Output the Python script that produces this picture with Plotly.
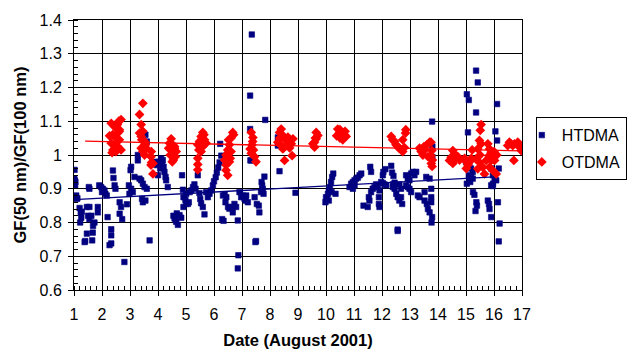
import plotly.graph_objects as go

# ---------------- data ----------------
HT_X = [
    1.00, 1.02, 1.03, 1.05, 1.01, 1.04, 1.06, 1.08, 1.10, 1.12,
    1.20, 1.24, 1.28, 1.26, 1.22,
    1.46, 1.55, 1.50, 1.62, 1.55, 1.73, 1.68,
    1.85, 1.85, 1.46, 1.38, 1.40, 1.67, 1.65,
    1.55, 1.53, 1.90, 1.97, 2.03, 2.09, 2.12, 2.17, 2.00,
    2.20, 2.33, 2.33, 2.27, 2.33,
    2.39, 2.41, 2.45, 2.48,
    2.63, 2.68, 2.63, 2.72, 2.89, 2.80,
    2.96, 3.04, 2.98, 3.10, 3.02, 3.04,
    3.28, 3.28, 3.16, 3.34, 3.40, 3.46, 3.52, 3.60,
    3.43, 3.46, 3.55, 3.70, 3.55, 3.60,
    3.88, 3.96, 4.05, 4.08, 4.00,
    4.11, 4.17, 4.15, 4.20, 4.23, 4.27, 4.29, 4.35,
    4.55, 4.59, 4.65, 4.71, 4.63, 4.67, 4.77, 4.83,
    4.86, 4.89, 4.91, 4.98, 5.07, 5.01, 5.13, 5.19, 5.25, 5.30, 5.34,
    4.91, 5.00, 5.10,
    5.42, 5.48, 5.51, 5.54, 5.60, 5.66,
    5.72, 5.78, 5.84, 5.90, 5.96, 6.00, 6.06, 6.10, 6.15, 6.20, 6.26, 6.22,
    6.32, 6.38, 6.41, 6.44, 6.50, 6.55, 6.61, 6.67,
    6.29, 6.34, 6.73, 6.79, 6.85,
    6.91, 6.97, 7.03, 7.09, 7.13, 7.15, 7.21,
    6.87, 6.85,
    7.29, 7.29, 7.30, 7.35,
    7.33, 7.80, 7.70, 7.72, 7.74, 7.68, 7.77, 7.45, 7.53, 7.60, 7.62, 7.48, 7.50,
    7.83, 8.28, 8.28, 8.34, 8.91,
    9.98, 10.00, 10.04, 10.07, 10.10, 10.14, 10.18, 10.22, 10.26, 10.34, 10.10, 10.20,
    10.84, 10.90, 10.96, 11.02, 11.08, 11.14, 11.20, 11.26, 10.96, 11.02,
    11.58, 11.61,
    11.34, 11.49, 11.55, 11.53, 11.61, 11.67, 11.73, 11.79, 11.85, 11.91, 11.89, 11.89, 11.91,
    11.97, 12.03, 12.09, 12.15,
    12.05, 12.12, 12.03,
    12.33, 12.36, 12.41, 12.45, 12.39,
    12.45, 12.51, 12.56, 12.39,
    12.56, 12.56,
    12.62, 12.68, 12.68, 12.62, 12.72,
    12.86, 12.92, 12.98, 13.04, 13.10, 13.16, 13.22,
    12.92, 12.98, 12.86,
    13.04, 13.28, 13.34, 13.52, 13.58, 13.70,
    13.52, 13.60, 13.64, 13.70,
    13.79, 13.80, 13.80, 13.76, 13.76, 13.76, 13.79, 13.77,
    15.36, 15.42, 15.03, 15.10, 16.11, 15.36, 15.07, 16.05, 16.11,
    15.00, 15.12, 15.18, 15.24, 15.18, 15.10, 15.15, 15.24, 15.03, 15.12,
    15.90, 15.96, 16.02, 15.96, 16.08, 16.17,
    15.90, 15.96,
    15.25, 15.30,
    15.37, 15.39, 15.34,
    15.78, 15.82, 15.84,
    15.90, 16.14, 16.20, 16.17,
]
HT_Y = [
    0.920, 0.956, 0.925, 0.920, 0.930, 0.910, 0.875, 0.880, 0.870, 0.872,
    0.843, 0.830, 0.832, 0.814, 0.800,
    0.846, 0.846, 0.820, 0.820, 0.810, 0.800, 0.790,
    0.846, 0.830, 0.767, 0.742, 0.745, 0.770, 0.747,
    0.900, 0.905, 0.910, 0.905, 0.900, 0.895, 0.885, 0.880, 0.890,
    0.816, 0.780, 0.762, 0.733, 0.738,
    0.954, 0.932, 0.910, 0.900,
    0.860, 0.846, 0.826, 0.810, 0.854, 0.683,
    0.910, 0.900, 0.885, 0.890, 0.955, 0.965,
    1.000, 0.984, 0.935, 0.930, 0.925, 0.915, 0.905, 0.900,
    0.870, 0.860, 0.865, 0.747, 1.060, 1.040,
    0.980, 0.970, 0.980, 0.960, 0.940,
    0.990, 0.985, 0.975, 0.965, 0.950, 0.935, 0.925, 0.905,
    0.820, 0.812, 0.802, 0.793, 0.807, 0.827, 0.822, 0.814,
    0.940, 0.897, 0.875, 0.867, 0.855, 0.885, 0.890, 0.895, 0.905, 0.913, 0.900,
    0.846, 0.855, 0.860,
    0.940, 0.887, 0.870, 0.857, 0.846, 0.824,
    0.890, 0.875, 0.885, 0.895, 0.910, 0.922, 0.934, 0.948, 0.963, 0.978, 0.998, 1.033,
    0.880, 0.883, 0.860, 0.875, 0.846, 0.841, 0.846, 0.830,
    0.810, 0.805, 0.855, 0.846, 0.806,
    0.890, 0.875, 0.880, 0.870, 0.865, 0.880, 0.860,
    0.703, 0.664,
    1.176, 1.077, 0.984, 1.357,
    0.984, 0.936, 0.920, 0.910, 0.900, 0.890, 0.885, 0.875, 0.855, 0.850, 0.830, 0.742, 0.745,
    1.104, 1.052, 1.028, 0.952, 0.888,
    0.860, 0.875, 0.870, 0.885, 0.895, 0.905, 0.920, 0.935, 0.945, 0.885, 0.865, 0.890,
    0.905, 0.915, 0.920, 0.925, 0.930, 0.933, 0.940, 0.945, 0.900, 0.910,
    0.965, 0.950,
    0.850, 0.846, 0.865, 0.875, 0.890, 0.900, 0.905, 0.913, 0.905, 0.895, 0.875, 0.855, 0.846,
    0.920, 0.917, 0.913, 0.910,
    0.950, 0.958, 0.940,
    0.968, 0.948, 0.938, 0.918, 0.913,
    0.900, 0.885, 0.875, 0.905,
    0.779, 0.775,
    0.913, 0.900, 0.875, 0.865, 0.855,
    0.940, 0.930, 0.925, 0.945, 0.950, 0.940, 0.950,
    0.905, 0.900, 0.910,
    0.890, 0.880, 0.875, 0.890, 0.935, 0.930,
    0.865, 0.855, 0.840, 0.830,
    1.099, 1.025, 0.994, 0.900, 0.875, 0.860, 0.816, 0.800,
    1.250, 1.215, 1.180, 1.163, 1.151, 1.126, 1.067, 1.070, 1.043,
    0.980, 0.970, 0.960, 0.950, 0.935, 0.940, 0.920, 0.930, 0.915, 0.930,
    0.960, 0.940, 0.930, 0.915, 0.925, 0.960,
    0.910, 0.908,
    0.890, 0.882,
    0.860, 0.850, 0.834,
    0.865, 0.855, 0.840,
    0.816, 0.860, 0.797, 0.744,
]

OT_X = [
    2.33, 2.60, 2.68, 2.50, 2.62, 2.56, 2.38, 2.27, 2.50, 2.62, 2.33, 2.45, 2.56, 2.39, 2.36, 2.50, 2.68, 2.62, 2.44, 2.55,
    3.46, 3.34, 3.40, 3.46, 3.34, 3.40, 3.52, 3.58, 3.46, 3.52, 3.75, 3.82, 3.75, 3.82, 3.42, 3.55, 3.76, 3.77, 3.40,
    4.47, 4.41, 4.53, 4.59, 4.47, 4.53, 4.62, 4.55, 4.51, 4.59, 4.65, 4.38, 4.44,
    5.42, 5.42, 5.42, 5.60, 5.54, 5.66, 5.48, 5.42, 5.60, 5.72, 5.54, 5.46, 5.64, 5.58,
    6.67, 6.61, 6.55, 6.49, 6.43, 6.38, 6.43, 6.55, 6.43, 6.49, 6.61, 6.58, 6.70, 6.52,
    7.29, 7.33, 7.39, 7.36, 7.41, 7.33, 7.45, 7.50, 7.38,
    8.40, 8.34, 8.46, 8.52, 8.28, 8.58, 8.40, 8.46, 8.70, 8.76, 8.82, 8.64, 8.52, 8.79, 8.35, 8.60,
    9.65, 9.71, 9.65, 9.59, 9.53, 9.59, 9.62,
    10.42, 10.48, 10.38, 10.50, 10.54, 10.60, 10.66, 10.72, 10.54, 10.60, 10.50, 10.68,
    12.33, 12.45, 12.50, 12.56, 12.62, 12.68, 12.74, 12.80, 12.84, 12.74, 12.38, 12.85,
    13.34, 13.40, 13.46, 13.52, 13.60, 13.70, 13.64, 13.76, 13.75, 13.78, 13.75, 13.80, 13.79, 13.50,
    14.53, 14.59, 14.47, 14.65, 14.41, 14.53, 14.71, 14.77, 14.60,
    14.95, 15.01, 15.07, 15.01, 15.13, 15.19, 15.22,
    15.54, 15.51, 15.48, 15.54, 15.42, 15.36, 15.48, 15.42, 15.60, 15.50,
    15.78, 15.84, 15.90, 15.82, 15.96, 16.02, 15.72, 15.84, 15.96, 16.08, 15.66, 15.90, 16.10, 16.00,
    16.55, 16.61, 16.67, 16.73, 16.85, 16.91, 16.97, 16.49, 16.71, 16.90,
]
OT_Y = [
    1.094, 1.100, 1.105, 1.080, 1.075, 1.065, 1.060, 1.057, 1.050, 1.045, 1.035, 1.030, 1.025, 1.015, 1.007, 1.010, 1.015, 1.070, 1.085, 1.090,
    1.153, 1.120, 1.090, 1.070, 1.065, 1.055, 1.040, 1.020, 1.010, 1.000, 0.995, 0.975, 0.970, 0.944, 1.045, 1.030, 1.010, 0.978, 1.020,
    1.048, 1.035, 1.030, 1.020, 1.015, 1.005, 0.995, 0.985, 0.980, 1.025, 1.010, 1.020, 1.000,
    0.990, 0.972, 0.956, 1.067, 1.055, 1.045, 1.040, 1.030, 1.025, 1.035, 1.010, 1.015, 1.060, 1.050,
    1.067, 1.050, 1.030, 1.015, 1.000, 0.985, 0.970, 0.980, 0.955, 0.940, 1.010, 0.990, 1.060, 1.045,
    1.018, 1.067, 1.052, 1.030, 1.015, 1.005, 0.995, 0.980, 1.040,
    1.077, 1.067, 1.058, 1.048, 1.038, 1.043, 1.028, 1.018, 1.021, 1.033, 1.048, 1.053, 0.984, 0.998, 1.050, 1.030,
    1.067, 1.058, 1.048, 1.038, 1.033, 1.023, 1.050,
    1.077, 1.067, 1.057, 1.075, 1.068, 1.065, 1.060, 1.055, 1.055, 1.045, 1.050, 1.070,
    1.055, 1.040, 1.030, 1.025, 1.020, 1.015, 1.010, 1.022, 1.065, 1.045, 1.045, 1.075,
    1.020, 1.010, 1.000, 1.015, 1.030, 1.038, 0.995, 0.975, 1.038, 1.013, 0.998, 0.985, 0.966, 1.025,
    1.013, 1.003, 0.993, 0.990, 0.984, 0.975, 0.995, 0.985, 1.000,
    0.990, 0.980, 0.970, 0.960, 0.980, 0.990, 1.015,
    1.090, 1.073, 1.043, 1.033, 1.018, 0.988, 0.978, 0.959, 0.964, 1.000,
    1.033, 1.018, 1.008, 0.998, 0.988, 0.984, 0.984, 0.964, 0.954, 0.944, 0.944, 0.984, 1.000, 1.010,
    1.038, 1.033, 1.028, 1.033, 1.038, 1.023, 1.013, 1.028, 0.984, 1.030,
]

# linear trend lines as drawn in the reference (end points)
HT_TREND_X = [1.0, 16.0]
HT_TREND_Y = [0.868, 0.935]
OT_TREND_X = [1.4, 17.0]
OT_TREND_Y = [1.041, 1.012]

X_TICKS = list(range(1, 18))
Y_TICKS = [0.6, 0.7, 0.8, 0.9, 1.0, 1.1, 1.2, 1.3, 1.4]
Y_TICKTEXT = ["0.6", "0.7", "0.8", "0.9", "1", "1.1", "1.2", "1.3", "1.4"]

NAVY = "#000080"
RED = "#FF0000"
FONT = "Liberation Sans, Arial, sans-serif"

fig = go.Figure()
fig.add_trace(go.Scatter(
    x=HT_X, y=HT_Y, mode="markers", name="HTDMA",
    legendgroup="a",
    marker=dict(symbol="square", size=5.5, color=NAVY, line=dict(color=NAVY, width=0.6)),
))
fig.add_trace(go.Scatter(
    x=OT_X, y=OT_Y, mode="markers", name="OTDMA",
    legendgroup="b",
    marker=dict(symbol="diamond", size=7.5, color=RED, line=dict(width=0)),
))
fig.add_trace(go.Scatter(
    x=HT_TREND_X, y=HT_TREND_Y, mode="lines", showlegend=False,
    line=dict(color=NAVY, width=1.3), hoverinfo="skip",
))
fig.add_trace(go.Scatter(
    x=OT_TREND_X, y=OT_TREND_Y, mode="lines", showlegend=False,
    line=dict(color=RED, width=1.3), hoverinfo="skip",
))

axis_common = dict(
    showgrid=True, gridcolor="black", gridwidth=1,
    showline=True, linecolor="black", linewidth=1, mirror=True,
    zeroline=False, automargin=False,
    ticks="outside", ticklen=5, tickcolor="black", tickwidth=1,
    tickfont=dict(family=FONT, size=16, color="black"),
)

fig.update_xaxes(
    range=[1, 17], tickvals=X_TICKS,
    minor=dict(ticks="inside", ticklen=4, tickcolor="black", dtick=0.2, tick0=1, showgrid=False),
    title=dict(text="<b>Date (August 2001)</b>", font=dict(family=FONT, size=16.5, color="black"), standoff=20),
    ticklabelstandoff=5,
    **axis_common,
)
fig.update_yaxes(
    range=[0.6, 1.4], tickvals=Y_TICKS, ticktext=Y_TICKTEXT,
    minor=dict(ticks="inside", ticklen=4, tickcolor="black", dtick=0.02, tick0=0.6, showgrid=False),
    title=dict(text="<b>GF(50 nm)/GF(100 nm)</b>", font=dict(family=FONT, size=16.5, color="black"), standoff=8),
    ticklabelstandoff=3,
    **axis_common,
)

fig.update_layout(
    width=630, height=349,
    margin=dict(l=74, r=108, t=20, b=59, autoexpand=False),
    paper_bgcolor="white", plot_bgcolor="white",
    font=dict(family=FONT, color="black"),
    showlegend=True,
    legend=dict(
        x=1.234, y=0.64, xanchor="right", yanchor="top",
        bordercolor="black", borderwidth=1, bgcolor="white",
        font=dict(family=FONT, size=16, color="black"),
        traceorder="grouped", tracegroupgap=3, indentation=-15,
    ),
)

fig.write_html("out.html")
